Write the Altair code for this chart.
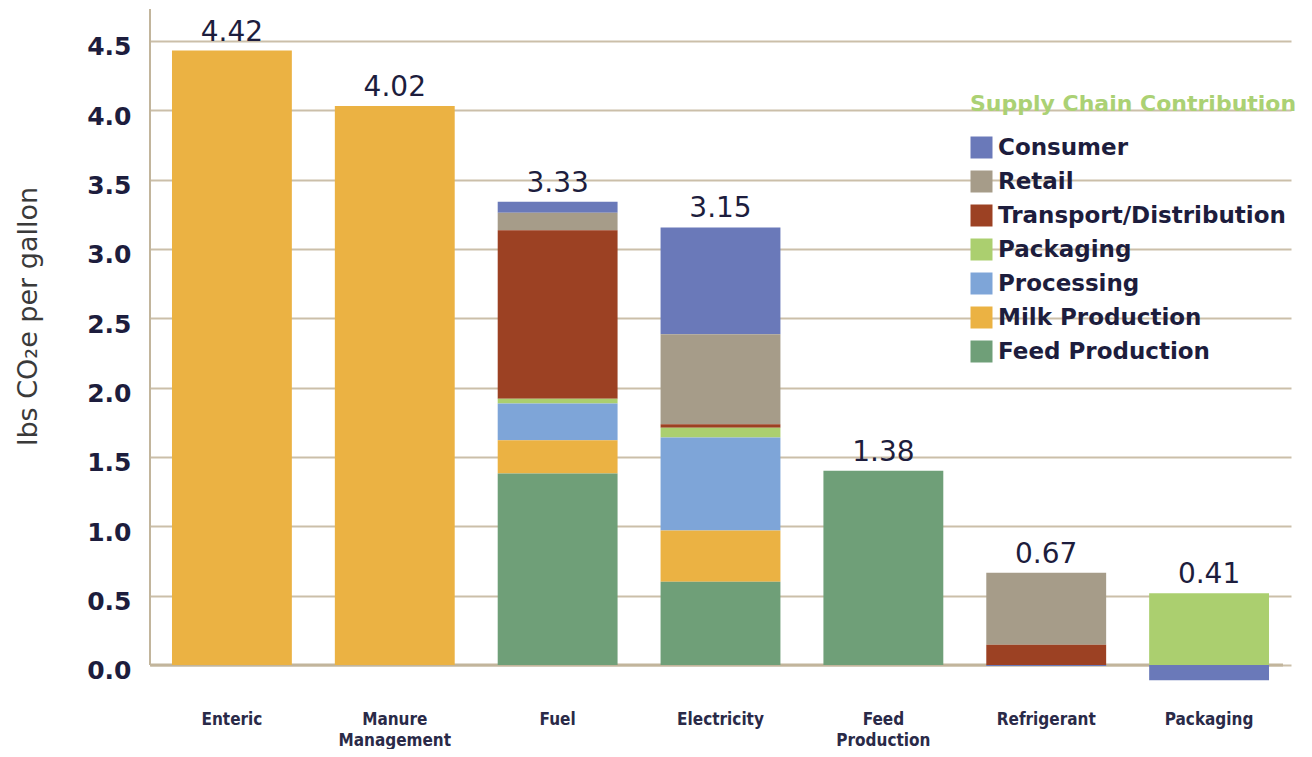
import altair as alt
import pandas as pd

categories = ["Enteric", "Manure Management", "Fuel", "Electricity",
              "Feed Production", "Refrigerant", "Packaging"]
stages = ["Consumer", "Retail", "Transport/Distribution", "Packaging",
          "Processing", "Milk Production", "Feed Production"]
colors = ["#6a79b9", "#a69c89", "#9c4123", "#abcf6f", "#7ea5d8", "#ebb243", "#6f9f78"]

consumer = [0, 0, 0.08, 0.77, 0, -0.008, -0.11]
retail = [0, 0, 0.125, 0.65, 0, 0.52, 0]
transport = [0, 0, 1.215, 0.025, 0, 0.145, 0]
packaging = [0, 0, 0.035, 0.07, 0, 0, 0.517]
processing = [0, 0, 0.265, 0.67, 0, 0, 0]
milk = [4.43, 4.03, 0.24, 0.37, 0, 0, 0]
feed = [0, 0, 1.38, 0.60, 1.40, 0, 0]
total_labels = ["4.42", "4.02", "3.33", "3.15", "1.38", "0.67", "0.41"]
y_ticks = [0, 0.5, 1.0, 1.5, 2.0, 2.5, 3.0, 3.5, 4.0, 4.5]

series = [consumer, retail, transport, packaging, processing, milk, feed]
rows = []
for s_idx, (stage, vals) in enumerate(zip(stages, series)):
    for cat, v in zip(categories, vals):
        if v != 0:
            rows.append({"category": cat, "stage": stage, "value": v,
                         "rank": len(stages) - 1 - s_idx})
df = pd.DataFrame(rows)

tops = []
for i, cat in enumerate(categories):
    pos = sum(vals[i] for vals in series if vals[i] > 0)
    tops.append({"category": cat, "top": pos, "label": total_labels[i]})
df_top = pd.DataFrame(tops)

W, H = 1141, 686
Y_MIN, Y_MAX = -0.217, 4.73
TAN = "#cbbfa9"
NAVY = "#1d1d3d"

yscale = alt.Scale(domain=[Y_MIN, Y_MAX], nice=False, zero=False)
yaxis = alt.Axis(values=y_ticks, format=".1f", grid=True, gridColor=TAN, gridWidth=2,
                 domain=False, ticks=False, labelFont="DejaVu Sans", labelFontSize=25,
                 labelFontWeight="bold", labelColor=NAVY, labelPadding=19,
                 labelBaseline="middle", labelOffset=6,
                 title="lbs CO₂e per gallon", titleFont="DejaVu Sans", titleFontSize=27,
                 titleFontWeight="normal", titleColor="#3a3a3a", titleAngle=-90,
                 titleX=-122, titleY=307, titleBaseline="middle", titleAlign="center")
xscale = alt.Scale(domain=categories, paddingInner=0.264, paddingOuter=0.135)
xaxis = alt.Axis(title=None, domain=False, ticks=False, labelAngle=0,
                 labelFont="DejaVu Sans Condensed", labelFontSize=17, labelFontWeight="bold",
                 labelColor="#2a2a48", labelPadding=16, labelLineHeight=21,
                 labelExpr="split(datum.label, ' ')")

zero_rule = alt.Chart(pd.DataFrame({"v": [0]})).mark_rule(color="#c2b59c", strokeWidth=3).encode(
    y=alt.Y("v:Q", scale=yscale, axis=yaxis),
    x=alt.value(0), x2=alt.value(W - 8))

axis_rule = alt.Chart(pd.DataFrame({"a": [Y_MAX], "b": [0]})).mark_rule(
    color="#c2b59c", strokeWidth=2).encode(
    y=alt.Y("a:Q", scale=yscale, axis=yaxis), y2="b:Q", x=alt.value(0))

bars = alt.Chart(df).mark_bar().encode(
    x=alt.X("category:N", scale=xscale, axis=xaxis, sort=categories),
    y=alt.Y("value:Q", scale=yscale, axis=yaxis, stack="zero"),
    color=alt.Color("stage:N", scale=alt.Scale(domain=stages, range=colors),
                    legend=alt.Legend(title="Supply Chain Contribution", orient="none",
                                      legendX=820, legendY=85, titleFont="DejaVu Sans",
                                      titleFontSize=22, titleFontWeight="bold",
                                      titleColor="#abd174", titleLimit=600,
                                      labelFont="DejaVu Sans", labelFontWeight="bold",
                                      labelFontSize=23, labelColor=NAVY, symbolType="square",
                                      symbolSize=484, symbolStrokeWidth=0, symbolOpacity=1,
                                      rowPadding=10, labelOffset=5, titlePadding=20,
                                      padding=0, labelLimit=400)),
    order=alt.Order("rank:Q", sort="ascending"),
)

texts = alt.Chart(df_top).mark_text(font="DejaVu Sans", fontSize=28, color=NAVY,
                                    baseline="alphabetic", dy=-10).encode(
    x=alt.X("category:N", scale=xscale, axis=xaxis, sort=categories),
    y=alt.Y("top:Q", scale=yscale, axis=yaxis),
    text="label:N")

chart = alt.layer(zero_rule, axis_rule, bars, texts).properties(
    width=W, height=H, background="white",
    autosize=alt.AutoSizeParams(type="none"),
    padding={"left": 142, "top": 1, "right": 13, "bottom": 54},
).configure_view(stroke=None)

chart.save("out.html", embed_options={"renderer": "svg", "actions": False})
